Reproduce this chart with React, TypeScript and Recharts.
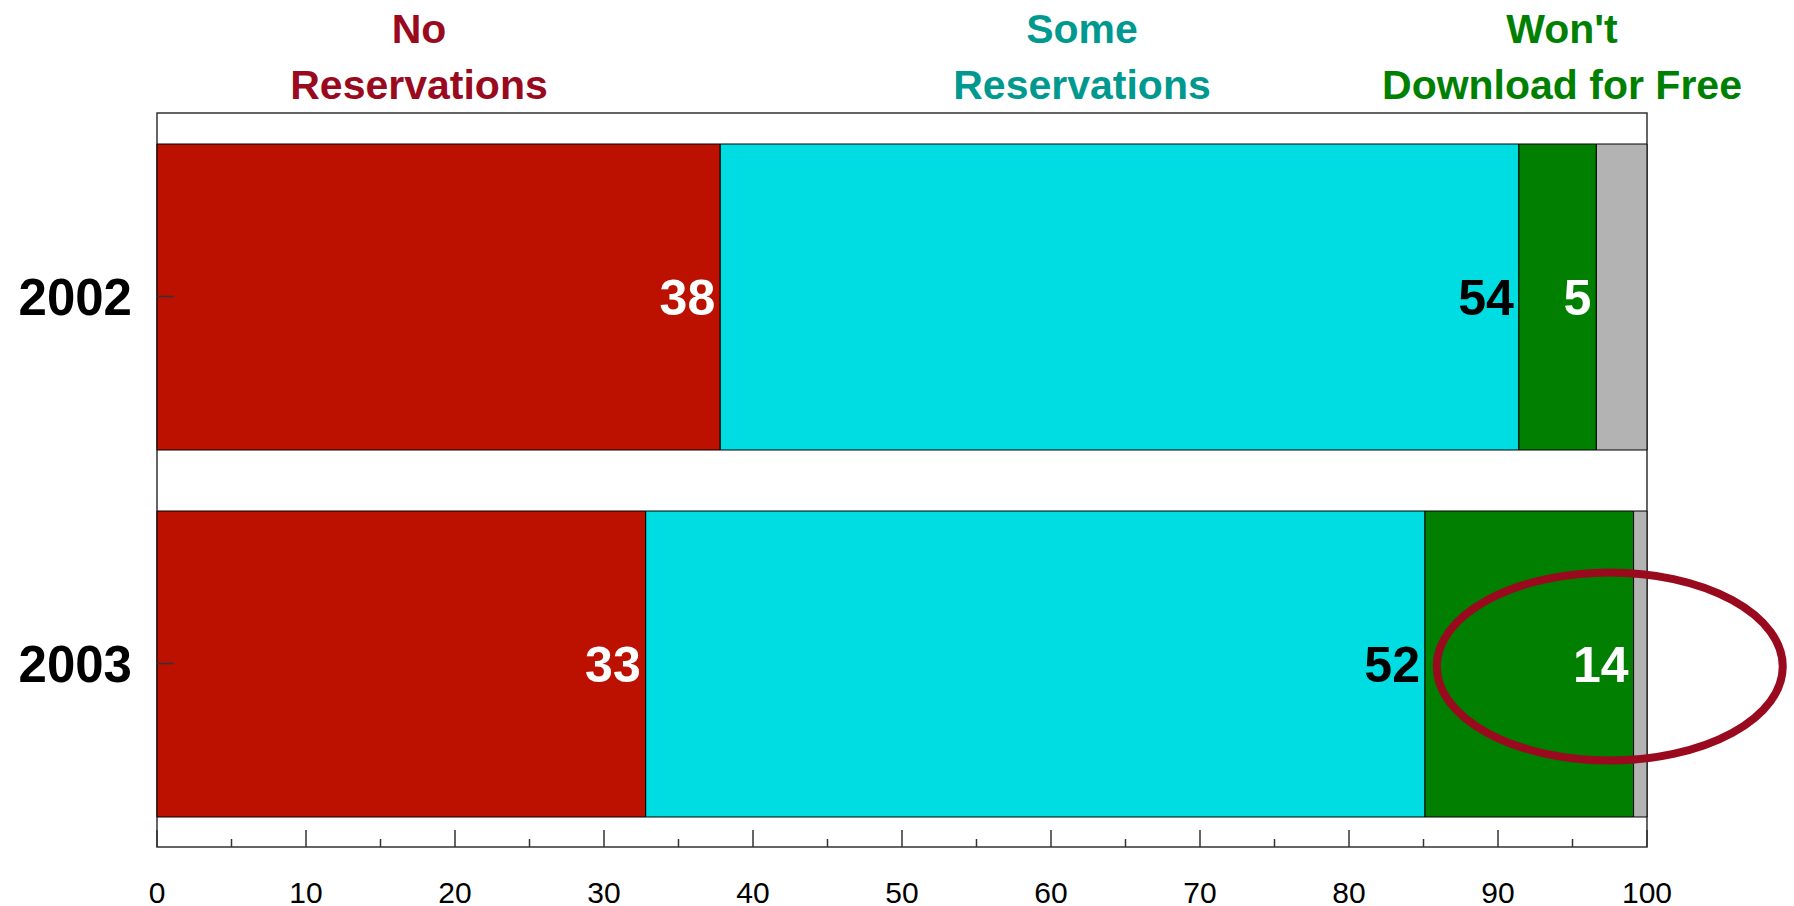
import { BarChart, Bar, XAxis, YAxis, LabelList, ReferenceArea, ReferenceDot } from 'recharts';

const years = ['2002', '2003'];
const noReservations = [37.8, 32.8];
const someReservations = [53.6, 52.3];
const wontDownload = [5.2, 14.0];
const other = [3.4, 0.9];
const xTicks = [0, 5, 10, 15, 20, 25, 30, 35, 40, 45, 50, 55, 60, 65, 70, 75, 80, 85, 90, 95, 100];

const titles = [
  { lines: ['No', 'Reservations'], color: '#990a1e', cx: 419 },
  { lines: ['Some', 'Reservations'], color: '#00998f', cx: 1082 },
  { lines: ["Won't", 'Download for Free'], color: '#008000', cx: 1562 },
];

const data = years.map((year, i) => ({
  year,
  no: noReservations[i],
  some: someReservations[i],
  wont: wontDownload[i],
  other: other[i],
}));

const FONT = '"Liberation Sans", Arial, sans-serif';
const AXIS = '#333';

const XTick = (props: any) => {
  const { x, y, payload } = props;
  const major = payload.value % 10 === 0;
  return (
    <g>
      <line x1={x} x2={x} y1={y} y2={y - (major ? 17 : 8)} stroke={AXIS} strokeWidth={1.5} />
      {major && (
        <text x={x} y={y + 56} textAnchor="middle" fontSize={30} fontFamily={FONT} fill="#000">
          {payload.value}
        </text>
      )}
    </g>
  );
};

const YTick = (props: any) => {
  const { x, y, payload } = props;
  return (
    <g>
      <line x1={x} x2={x + 17} y1={y} y2={y} stroke={AXIS} strokeWidth={1.5} />
      <text x={x - 25} y={y + 18} textAnchor="end" fontSize={51} fontWeight="bold" fontFamily={FONT} fill="#000">
        {payload.value}
      </text>
    </g>
  );
};

const labelProps = (fill: string) => ({
  position: 'insideRight' as const,
  offset: 5,
  fill,
  fontSize: 50,
  fontWeight: 'bold',
  fontFamily: FONT,
  formatter: (v: any) => Math.round(Number(v)),
});

export default function App() {
  return (
    <div style={{ position: 'absolute', left: 0, top: 0, width: 1794, height: 906, background: '#fff' }}>
      <BarChart
        width={1794}
        height={906}
        data={data}
        layout="vertical"
        margin={{ top: 113, right: 147, bottom: 0, left: 0 }}
        barSize={306}
      >
        <XAxis
          type="number"
          domain={[0, 100]}
          ticks={xTicks}
          interval={0}
          axisLine={false}
          tickLine={false}
          tickSize={0}
          tickMargin={0}
          height={59}
          tick={<XTick />}
        />
        <YAxis
          type="category"
          dataKey="year"
          width={157}
          axisLine={false}
          tickLine={false}
          tickSize={0}
          tickMargin={0}
          tick={<YTick />}
        />
        <ReferenceArea x1={0} x2={100} fill="none" stroke={AXIS} strokeWidth={1.5} ifOverflow="visible" />
        <Bar dataKey="no" stackId="a" fill="#bc1100" stroke="#000" strokeWidth={1} isAnimationActive={false}>
          <LabelList dataKey="no" {...labelProps('#fff')} />
        </Bar>
        <Bar dataKey="some" stackId="a" fill="#00dde2" stroke="#000" strokeWidth={1} isAnimationActive={false}>
          <LabelList dataKey="some" {...labelProps('#000')} />
        </Bar>
        <Bar dataKey="wont" stackId="a" fill="#007f00" stroke="#000" strokeWidth={1} isAnimationActive={false}>
          <LabelList dataKey="wont" {...labelProps('#fff')} />
        </Bar>
        <Bar dataKey="other" stackId="a" fill="#b3b3b3" stroke="#000" strokeWidth={1} isAnimationActive={false} />
        <ReferenceDot
          x={97.5}
          y="2003"
          ifOverflow="visible"
          shape={(p: any) => (
            <ellipse cx={p.cx} cy={p.cy + 3} rx={173} ry={94} fill="none" stroke="#990a1e" strokeWidth={8} />
          )}
        />
      </BarChart>
      <svg width={1794} height={120} style={{ position: 'absolute', left: 0, top: 0, pointerEvents: 'none' }}>
        {titles.map((t) =>
          t.lines.map((line, j) => (
            <text
              key={t.cx + '-' + j}
              x={t.cx}
              y={43 + j * 56}
              textAnchor="middle"
              fontSize={41}
              fontWeight="bold"
              fontFamily={FONT}
              fill={t.color}
            >
              {line}
            </text>
          ))
        )}
      </svg>
    </div>
  );
}
